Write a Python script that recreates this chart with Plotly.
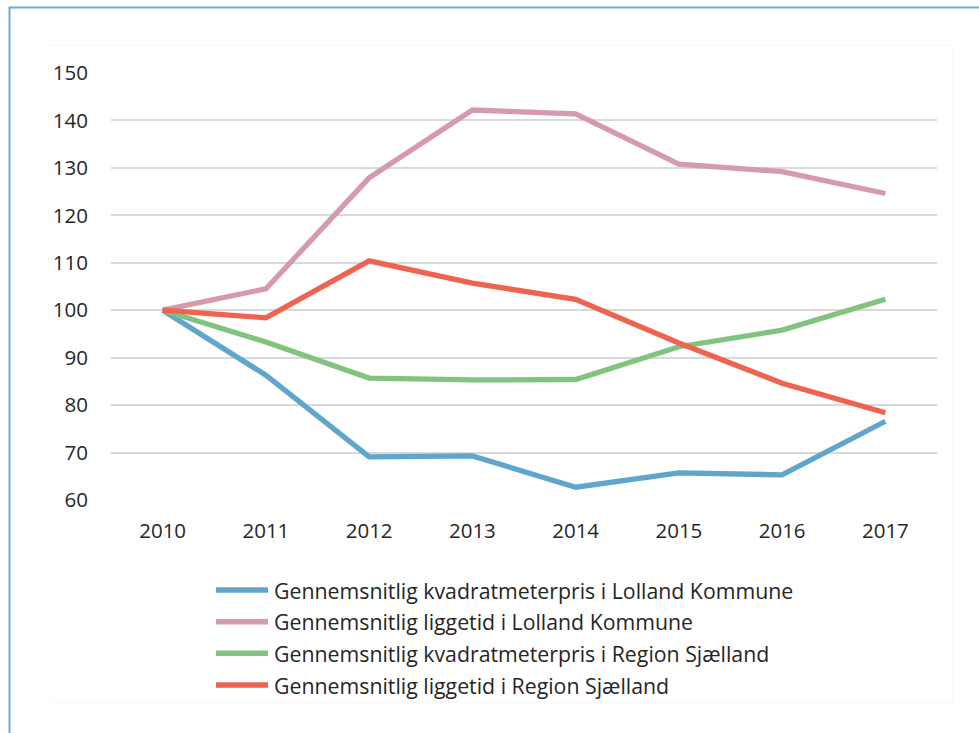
import plotly.graph_objects as go

years = ["2010", "2011", "2012", "2013", "2014", "2015", "2016", "2017"]
y_ticks = [60, 70, 80, 90, 100, 110, 120, 130, 140, 150]

series_names = [
    "Gennemsnitlig kvadratmeterpris i Lolland Kommune",
    "Gennemsnitlig liggetid i Lolland Kommune",
    "Gennemsnitlig kvadratmeterpris i Region Sjælland",
    "Gennemsnitlig liggetid i Region Sjælland",
]
kvm_lolland = [100, 86.3, 69.1, 69.3, 62.7, 65.7, 65.3, 76.6]
ligge_lolland = [100, 104.5, 127.9, 142.2, 141.4, 130.8, 129.2, 124.6]
kvm_sjaelland = [100, 93.3, 85.7, 85.3, 85.4, 92.3, 95.8, 102.3]
ligge_sjaelland = [100, 98.4, 110.4, 105.7, 102.3, 93.1, 84.6, 78.4]
series_values = [kvm_lolland, ligge_lolland, kvm_sjaelland, ligge_sjaelland]
colors = ["#5FA6CA", "#D59BAB", "#81C480", "#EF6450"]

FONT = "Open Sans"
TXT = "#262626"

fig = go.Figure()
for name, vals, col in zip(series_names, series_values, colors):
    fig.add_trace(go.Scatter(
        x=years, y=vals, name=name, mode="lines",
        line=dict(color=col, width=5.3),
        showlegend=False,
    ))

# plot area geometry (px) used to place frame/legend in paper coords
L, R, T, B = 111, 937, 73, 500
W, H = 979, 733
pw, ph = R - L, B - T

def px(x):
    return (x - L) / pw

def py(y):
    return (B - y) / ph

shapes = [
    # faint chart-area box
    dict(type="rect", xref="paper", yref="paper", x0=px(48), x1=px(953), y0=py(702), y1=py(45),
         line=dict(color="#F7F7F7", width=1), fillcolor="rgba(0,0,0,0)", layer="below"),
    # outer blue frame (cropped on right/bottom)
    dict(type="rect", xref="paper", yref="paper", x0=px(9.5), x1=px(W + 20), y0=py(H + 20), y1=py(7.5),
         line=dict(color="#6BAFD2", width=2), fillcolor="rgba(0,0,0,0)", layer="below"),
]

annotations = []
leg_y = [590, 621.7, 653.3, 685]
for name, col, yy in zip(series_names, colors, leg_y):
    shapes.append(dict(type="line", xref="paper", yref="paper", x0=px(216), x1=px(268),
                       y0=py(yy), y1=py(yy), line=dict(color=col, width=5.5)))
    annotations.append(dict(xref="paper", yref="paper", x=px(272), y=py(yy), text=name,
                            showarrow=False, xanchor="left", yanchor="middle",
                            font=dict(family=FONT, size=21.3, color=TXT)))

fig.update_layout(
    width=W, height=H,
    margin=dict(l=L, r=W - R, t=T, b=H - B, pad=0),
    paper_bgcolor="white", plot_bgcolor="white",
    font=dict(family=FONT, size=20.5, color=TXT),
    shapes=shapes, annotations=annotations,
    xaxis=dict(type="category", range=[-0.5, 7.5], showgrid=False, zeroline=False,
               showline=False, ticks="", tickfont=dict(size=20.5, color=TXT),
               ticklabelstandoff=16, fixedrange=True),
    yaxis=dict(range=[60, 150], tickvals=y_ticks, showgrid=True, gridcolor="#D9D9D9",
               gridwidth=1.5, zeroline=False, showline=False, ticks="",
               tickfont=dict(size=20.5, color=TXT), ticklabelstandoff=22, fixedrange=True),
)

fig.write_html("out.html", config={"displayModeBar": False},
               post_script="document.body.style.margin='0px';")
